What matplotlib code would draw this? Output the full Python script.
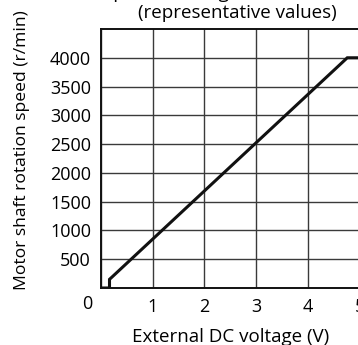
import matplotlib
matplotlib.use("Agg")
import matplotlib.pyplot as plt
import matplotlib.transforms as mtransforms

# Speed vs. external DC voltage (representative values)
voltage = [0.0, 0.17, 0.17, 4.76, 5.0]
speed = [0, 0, 150, 4000, 4000]

x_ticks = [1, 2, 3, 4, 5]
y_ticks = [500, 1000, 1500, 2000, 2500, 3000, 3500, 4000]
grid_x = [0, 1, 2, 3, 4, 5]
grid_y = [500, 1000, 1500, 2000, 2500, 3000, 3500, 4000]

plt.rcParams["font.family"] = ["Open Sans", "DejaVu Sans"]
fs_tick = 13
fs_label = 13.5

fig = plt.figure(figsize=(3.58, 3.45), dpi=100)
ax = fig.add_axes([100.7 / 358, 1 - 288 / 345, 259 / 358, 259 / 345])

for gx in grid_x:
    ax.axvline(gx, color="#3a3a3a", lw=1.0, zorder=1)
for gy in grid_y:
    ax.axhline(gy, color="#3a3a3a", lw=1.0, zorder=1)

ax.plot(voltage, speed, color="#111111", lw=2.2, solid_joinstyle="miter", zorder=3)

ax.set_xlim(0, 5)
ax.set_ylim(0, 4500)
ax.set_xticks(x_ticks)
ax.set_yticks(y_ticks)
ax.set_xticklabels([str(t) for t in x_ticks], fontsize=fs_tick)
ax.set_yticklabels([str(t) for t in y_ticks], fontsize=fs_tick)
ax.tick_params(axis="x", length=0, pad=7)
ax.tick_params(axis="y", length=0, pad=7)
for s in ax.spines.values():
    s.set_linewidth(1.4)
    s.set_color("#111111")

# shared origin label
trans = mtransforms.blended_transform_factory(ax.transData, ax.transAxes)
ax.text(-0.26, -0.027, "0", transform=trans, ha="center", va="top", fontsize=fs_tick)

ax.set_xlabel("External DC voltage (V)", fontsize=fs_label, labelpad=9)
fig.text(22 / 358, 1 - 290 / 345, "Motor shaft rotation speed (r/min)",
         rotation=90, ha="center", va="bottom", fontsize=12.6)

fig.text(237 / 358, 1 + 1.5 / 345, "Speed – voltage characteristics",
         ha="center", va="baseline", fontsize=fs_label)
fig.text(237 / 358, 1 - 13 / 345, "(representative values)",
         ha="center", va="center", fontsize=fs_label)

fig.savefig("out.png", dpi=100)
